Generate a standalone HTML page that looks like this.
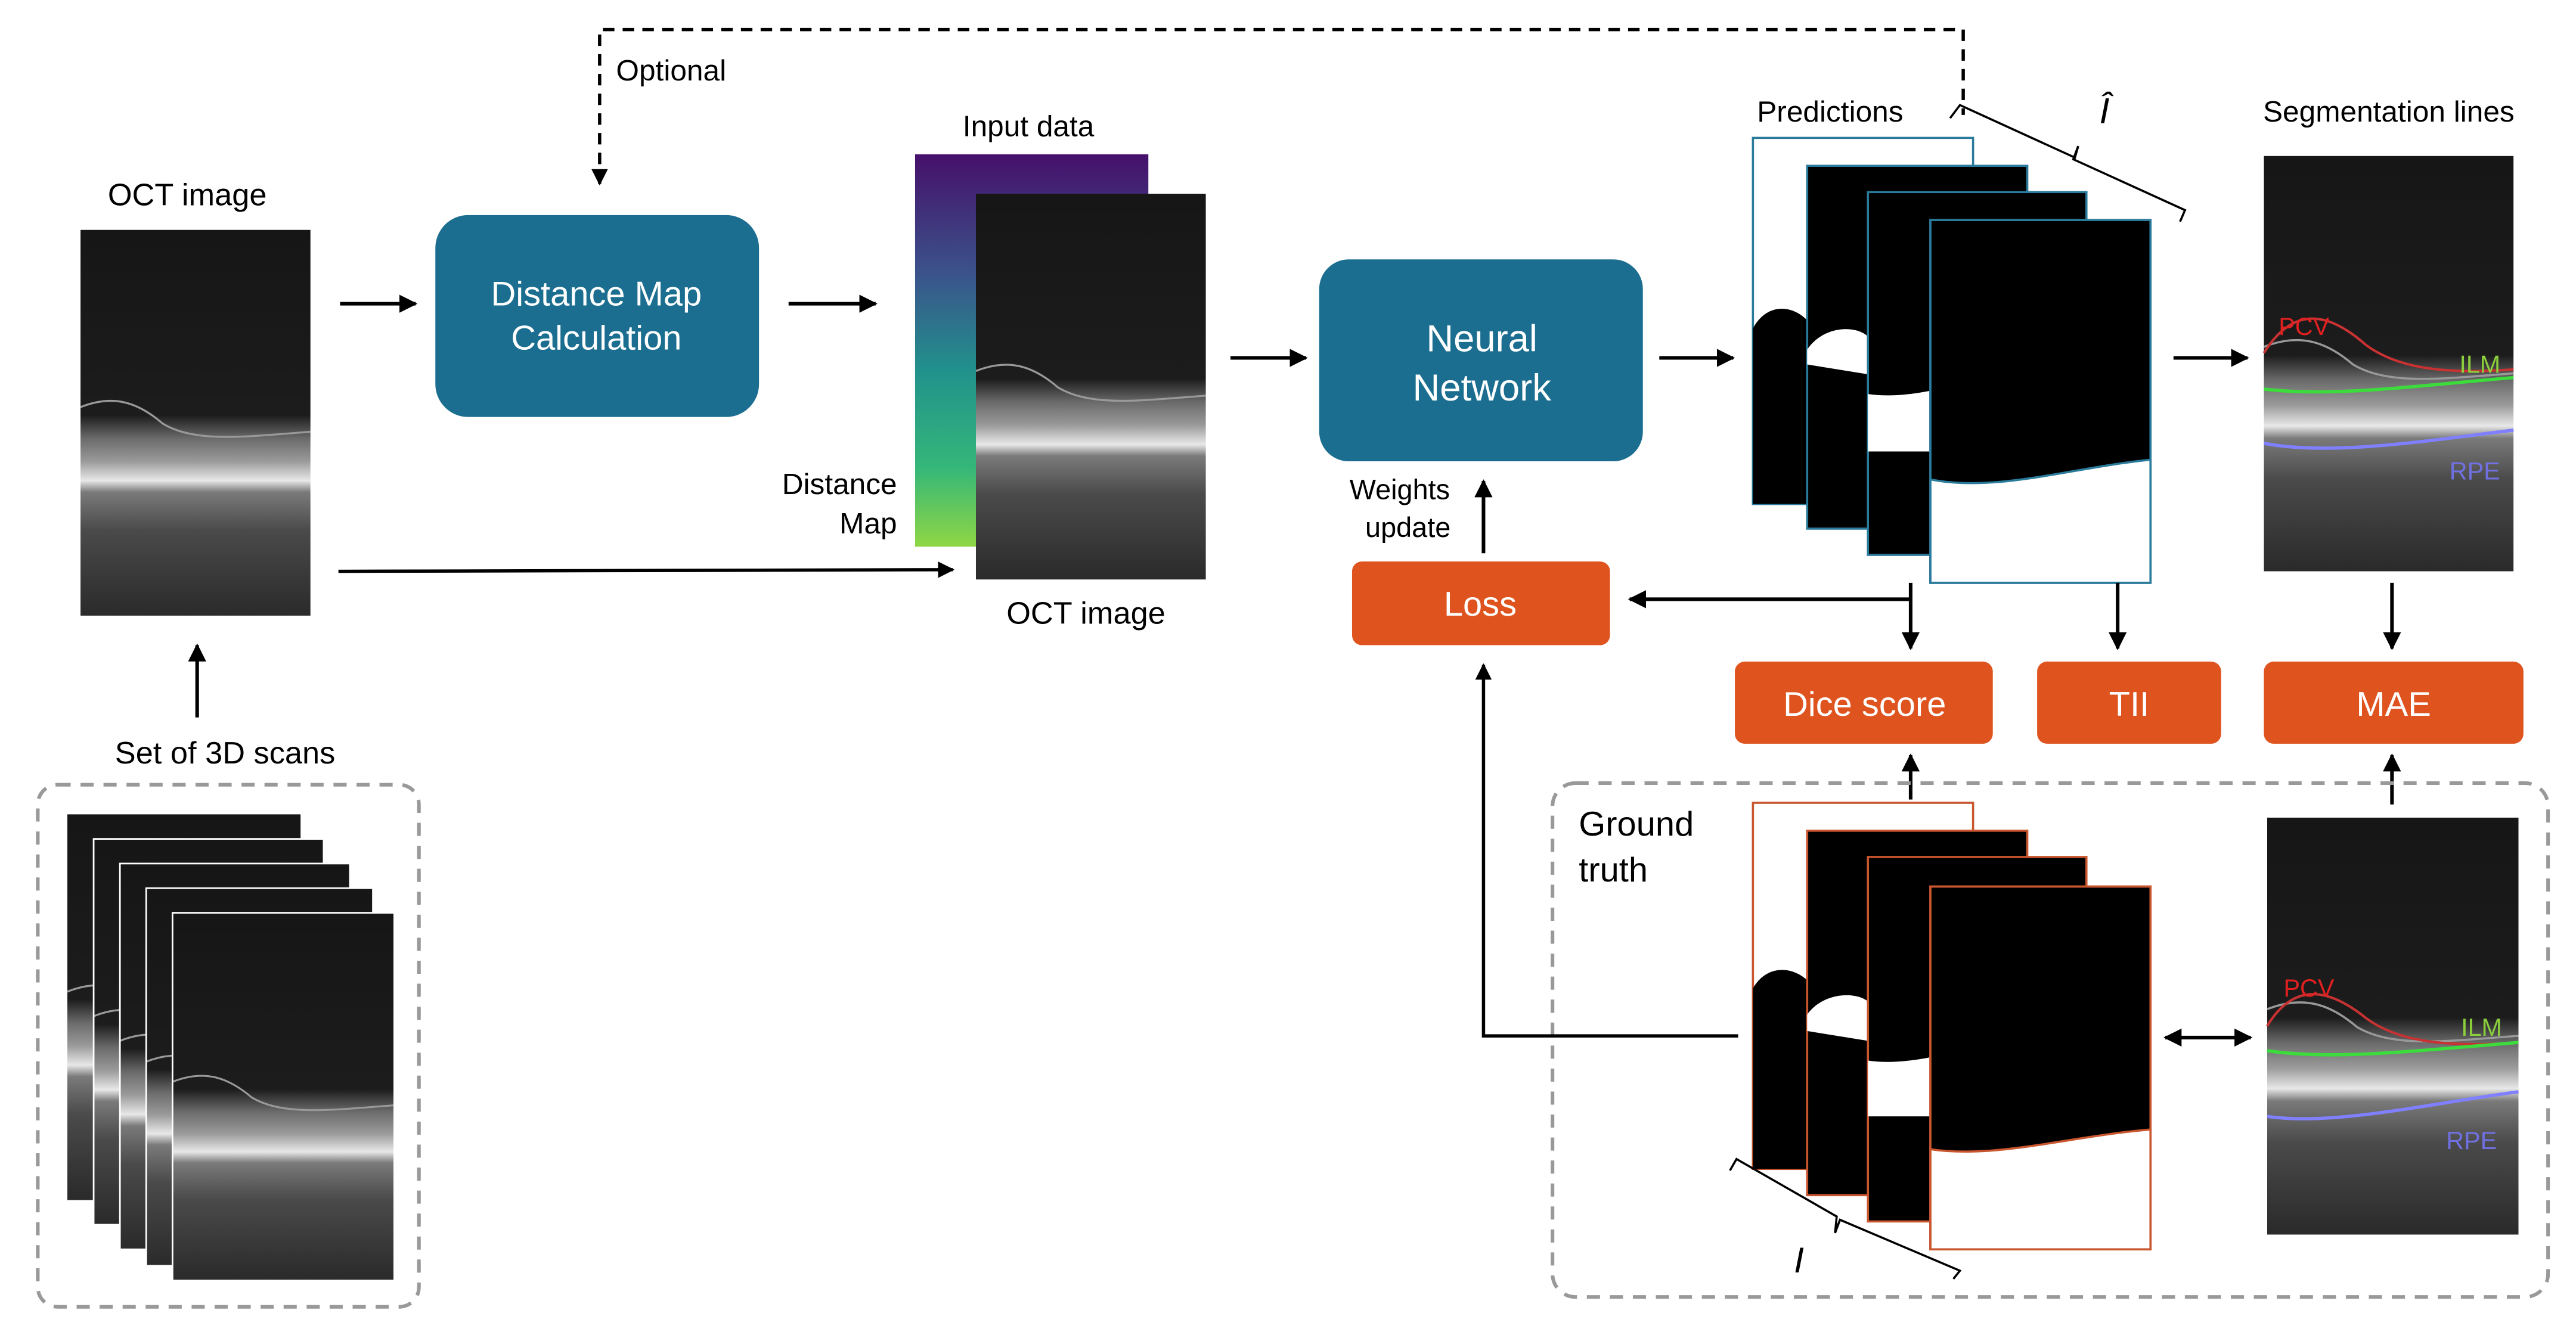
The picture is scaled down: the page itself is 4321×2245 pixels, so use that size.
<!DOCTYPE html>
<html><head><meta charset="utf-8"><style>
html,body{margin:0;padding:0;background:#fff}
svg{display:block}
text{font-family:"Liberation Sans",Arial,sans-serif}
</style></head><body>
<svg width="4321" height="2245" viewBox="0 0 1568 815" preserveAspectRatio="none" xmlns="http://www.w3.org/2000/svg">
<defs>
<marker id="ah" viewBox="0 0 10 10" refX="9" refY="5" markerWidth="5" markerHeight="5" orient="auto-start-reverse"><path d="M0,0 L10,5 L0,10 z" fill="#000"/></marker>
<linearGradient id="oct" x1="0" y1="0" x2="0" y2="1">
<stop offset="0" stop-color="#161616"/><stop offset="0.48" stop-color="#1c1c1c"/>
<stop offset="0.54" stop-color="#6a6a6a"/><stop offset="0.6" stop-color="#9a9a9a"/>
<stop offset="0.65" stop-color="#e8e8e8"/><stop offset="0.68" stop-color="#7a7a7a"/>
<stop offset="0.78" stop-color="#4a4a4a"/><stop offset="1" stop-color="#2a2a2a"/>
</linearGradient>
<linearGradient id="vir" x1="0" y1="0" x2="0" y2="1">
<stop offset="0" stop-color="#46106a"/><stop offset="0.3" stop-color="#3b528b"/>
<stop offset="0.55" stop-color="#21918c"/><stop offset="0.8" stop-color="#35b779"/><stop offset="1" stop-color="#8fd744"/>
</linearGradient>
<symbol id="octs" viewBox="0 0 140 235" preserveAspectRatio="none">
<rect width="140" height="235" fill="url(#oct)"/>
<path d="M0,108 C20,100 35,105 50,118 C70,130 100,126 140,123" stroke="#999" stroke-width="1.2" fill="none"/>
</symbol>
</defs>

<path d="M365,112 V18 H1195 V70" fill="none" stroke="#000" stroke-width="2" stroke-dasharray="7,5" marker-start="url(#ah)"/>
<text x="375" y="49" font-size="18">Optional</text>

<text x="114" y="125" font-size="19" text-anchor="middle">OCT image</text>
<use href="#octs" x="49" y="140" width="140" height="235"/>
<line x1="207" y1="185" x2="253" y2="185" stroke="#000" stroke-width="2.2" marker-end="url(#ah)"/>

<rect x="265" y="131" width="197" height="123" rx="20" fill="#1b6e8f"/>
<text x="363" y="186" font-size="21" fill="#fff" text-anchor="middle">Distance Map</text>
<text x="363" y="213" font-size="21" fill="#fff" text-anchor="middle">Calculation</text>
<line x1="480" y1="185" x2="533" y2="185" stroke="#000" stroke-width="2.2" marker-end="url(#ah)"/>

<text x="626" y="83" font-size="18" text-anchor="middle">Input data</text>
<rect x="557" y="94" width="142" height="239" fill="url(#vir)"/>
<use href="#octs" x="594" y="118" width="140" height="235"/>
<text x="546" y="301" font-size="18" text-anchor="end">Distance</text>
<text x="546" y="325" font-size="18" text-anchor="end">Map</text>
<text x="661" y="380" font-size="19" text-anchor="middle">OCT image</text>
<line x1="206" y1="348" x2="580" y2="347" stroke="#000" stroke-width="2" marker-end="url(#ah)"/>

<line x1="120" y1="437" x2="120" y2="393" stroke="#000" stroke-width="2.2" marker-end="url(#ah)"/>
<text x="137" y="465" font-size="19" text-anchor="middle">Set of 3D scans</text>
<rect x="23" y="478" width="232" height="318" rx="12" fill="none" stroke="#999" stroke-width="2.2" stroke-dasharray="8,6"/>
<use href="#octs" x="41" y="496" width="142" height="235"/>
<use href="#octs" x="57" y="511" width="140" height="235"/><rect x="57" y="511" width="140" height="235" fill="none" stroke="#fff" stroke-width="1"/>
<use href="#octs" x="73" y="526" width="140" height="235"/><rect x="73" y="526" width="140" height="235" fill="none" stroke="#fff" stroke-width="1"/>
<use href="#octs" x="89" y="541" width="138" height="230"/><rect x="89" y="541" width="138" height="230" fill="none" stroke="#fff" stroke-width="1"/>
<use href="#octs" x="105" y="556" width="135" height="224"/><rect x="105" y="556" width="135" height="224" fill="none" stroke="#fff" stroke-width="1"/>

<line x1="749" y1="218" x2="795" y2="218" stroke="#000" stroke-width="2.2" marker-end="url(#ah)"/>
<rect x="803" y="158" width="197" height="123" rx="18" fill="#1b6e8f"/>
<text x="902" y="214" font-size="23" fill="#fff" text-anchor="middle">Neural</text>
<text x="902" y="244" font-size="23" fill="#fff" text-anchor="middle">Network</text>
<text x="852" y="304" font-size="17" text-anchor="middle">Weights</text>
<text x="857" y="327" font-size="17" text-anchor="middle">update</text>
<line x1="903" y1="337" x2="903" y2="293" stroke="#000" stroke-width="2.2" marker-end="url(#ah)"/>
<rect x="823" y="342" width="157" height="51" rx="6" fill="#df531e"/>
<text x="901" y="375" font-size="21" fill="#fff" text-anchor="middle">Loss</text>
<line x1="1163" y1="365" x2="992" y2="365" stroke="#000" stroke-width="2.2" marker-end="url(#ah)"/>
<line x1="1163" y1="355" x2="1163" y2="395" stroke="#000" stroke-width="2.2" marker-end="url(#ah)"/>
<line x1="1010" y1="218" x2="1055" y2="218" stroke="#000" stroke-width="2.2" marker-end="url(#ah)"/>

<text x="1114" y="74" font-size="18" text-anchor="middle">Predictions</text>
<g stroke="#2a7b9b" stroke-width="1.3">
<rect x="1067" y="84" width="134" height="223" fill="#fff"/>
<path d="M1067,200 C1075,185 1090,185 1100,195 L1100,307 L1067,307z" fill="#000" stroke="none"/>
<rect x="1100" y="101" width="134" height="221" fill="#000"/>
<path d="M1100,213 C1110,198 1130,198 1137,205 L1137,228 L1100,222z" fill="#fff" stroke="none"/>
<rect x="1137" y="117" width="133" height="221" fill="#000"/>
<path d="M1137,240 C1150,242 1165,240 1175,238 L1175,275 L1137,275z" fill="#fff" stroke="none"/>
<rect x="1175" y="134" width="134" height="221" fill="#000"/>
<path d="M1175,292 C1215,300 1260,285 1309,280 L1309,355 L1175,355z" fill="#fff"/>
<rect x="1175" y="134" width="134" height="221" fill="none"/>
</g>
<path d="M1187,72 L1193,64 L1263,96 L1265,89 L1262,97 L1330,128 L1327,135" fill="none" stroke="#000" stroke-width="1.3"/>
<text x="1281" y="75" font-size="22" font-style="italic" font-family="Liberation Serif,serif" text-anchor="middle">Î</text>
<line x1="1323" y1="218" x2="1368" y2="218" stroke="#000" stroke-width="2.2" marker-end="url(#ah)"/>

<text x="1454" y="74" font-size="18" text-anchor="middle">Segmentation lines</text>
<use href="#octs" x="1378" y="95" width="152" height="253"/>
<path d="M1378,215 C1395,188 1415,188 1440,210 C1460,225 1490,228 1530,225" stroke="#c83232" stroke-width="1.5" fill="none"/>
<path d="M1378,237 C1420,242 1470,235 1530,230" stroke="#3cdc3c" stroke-width="2" fill="none"/>
<path d="M1378,270 C1420,278 1480,268 1530,262" stroke="#8080ff" stroke-width="2" fill="none"/>
<text x="1387" y="204" font-size="15" fill="#e02020">PCV</text>
<text x="1497" y="227" font-size="15" fill="#8ccf3c">ILM</text>
<text x="1491" y="292" font-size="15" fill="#7070e0">RPE</text>
<line x1="1289" y1="355" x2="1289" y2="395" stroke="#000" stroke-width="2.2" marker-end="url(#ah)"/>
<line x1="1456" y1="355" x2="1456" y2="395" stroke="#000" stroke-width="2.2" marker-end="url(#ah)"/>

<rect x="1056" y="403" width="157" height="50" rx="6" fill="#df531e"/>
<text x="1135" y="436" font-size="21" fill="#fff" text-anchor="middle">Dice score</text>
<rect x="1240" y="403" width="112" height="50" rx="6" fill="#df531e"/>
<text x="1296" y="436" font-size="21" fill="#fff" text-anchor="middle">TII</text>
<rect x="1378" y="403" width="158" height="50" rx="6" fill="#df531e"/>
<text x="1457" y="436" font-size="21" fill="#fff" text-anchor="middle">MAE</text>
<line x1="1163" y1="487" x2="1163" y2="460" stroke="#000" stroke-width="2.2" marker-end="url(#ah)"/>
<line x1="1456" y1="490" x2="1456" y2="460" stroke="#000" stroke-width="2.2" marker-end="url(#ah)"/>

<rect x="945" y="477" width="606" height="313" rx="14" fill="none" stroke="#999" stroke-width="2.2" stroke-dasharray="8,6"/>
<text x="961" y="509" font-size="21">Ground</text>
<text x="961" y="537" font-size="21">truth</text>

<g stroke="#c9562e" stroke-width="1.3">
<rect x="1067" y="489" width="134" height="223" fill="#fff"/>
<path d="M1067,602 C1075,588 1090,588 1100,597 L1100,712 L1067,712z" fill="#000" stroke="none"/>
<rect x="1100" y="506" width="134" height="222" fill="#000"/>
<path d="M1100,618 C1110,604 1130,604 1137,610 L1137,634 L1100,628z" fill="#fff" stroke="none"/>
<rect x="1137" y="522" width="133" height="222" fill="#000"/>
<path d="M1137,646 C1150,648 1165,646 1175,644 L1175,680 L1137,680z" fill="#fff" stroke="none"/>
<rect x="1175" y="540" width="134" height="221" fill="#000"/>
<path d="M1175,700 C1215,706 1260,692 1309,688 L1309,761 L1175,761z" fill="#fff"/>
<rect x="1175" y="540" width="134" height="221" fill="none"/>
</g>
<path d="M1053,713 L1057,706 L1118,741 L1117,751 L1120,743 L1193,774 L1189,779" fill="none" stroke="#000" stroke-width="1.3"/>
<text x="1095" y="775" font-size="22" font-style="italic" font-family="Liberation Serif,serif" text-anchor="middle">I</text>

<polyline points="1058,631 903,631 903,405" fill="none" stroke="#000" stroke-width="2" marker-end="url(#ah)"/>
<line x1="1318" y1="632" x2="1370" y2="632" stroke="#000" stroke-width="2.2" marker-start="url(#ah)" marker-end="url(#ah)"/>

<use href="#octs" x="1380" y="498" width="153" height="254"/>
<path d="M1380,625 C1395,600 1415,600 1440,620 C1460,635 1490,638 1533,635" stroke="#c83232" stroke-width="1.5" fill="none"/>
<path d="M1380,640 C1420,646 1470,640 1533,635" stroke="#3cdc3c" stroke-width="2" fill="none"/>
<path d="M1380,680 C1420,686 1480,672 1533,665" stroke="#8080ff" stroke-width="2" fill="none"/>
<text x="1390" y="607" font-size="15" fill="#e02020">PCV</text>
<text x="1498" y="631" font-size="15" fill="#8ccf3c">ILM</text>
<text x="1489" y="700" font-size="15" fill="#7070e0">RPE</text>
</svg>
</body></html>
